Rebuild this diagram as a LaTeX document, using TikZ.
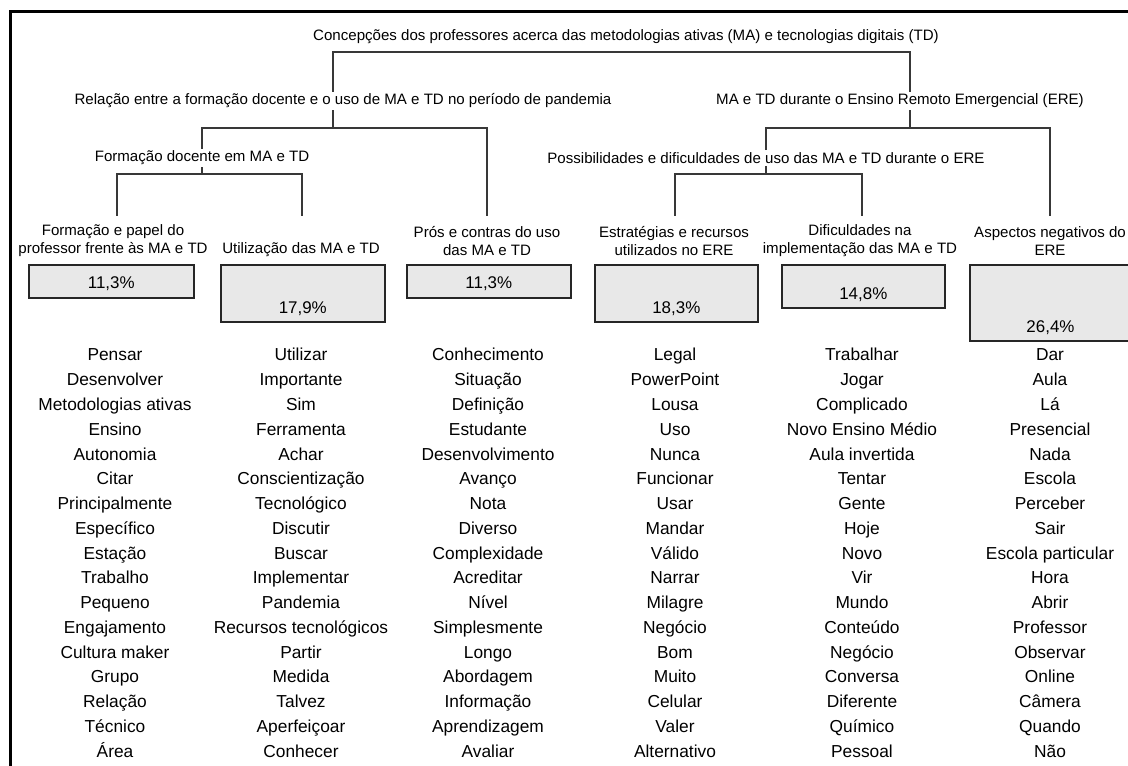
\documentclass[tikz,border=0pt]{standalone}
\usepackage{fontspec}
\setmainfont{Liberation Sans}
\begin{document}
\begin{tikzpicture}[x=0.75pt,y=-0.75pt,
  hdr/.style={font=\fontsize{11.3}{13.5}\selectfont, inner sep=1.5pt, align=center},
  word/.style={font=\fontsize{13}{15}\selectfont, inner sep=0pt, anchor=base},
  conn/.style={draw=black!78, line width=1.1pt},
  pbox/.style={draw=black!85, line width=1.2pt, fill=black!9, inner sep=0pt, anchor=north west},
  pct/.style={font=\fontsize{12.7}{15}\selectfont, inner sep=0pt, anchor=base}]
\useasboundingbox (0,0) rectangle (1128,766);
\begin{scope}
  \clip (0,0) rectangle (1128,766);
  \draw[line width=1.8pt] (10.5,800) -- (10.5,11.5) -- (1150,11.5);
\end{scope}

% headers
\node[hdr] (T) at (626,37) {Concepções dos professores acerca das metodologias ativas (MA) e tecnologias digitais (TD)};
\node[hdr] (rel) at (343,101) {Relação entre a formação docente e o uso de MA e TD no período de pandemia};
\node[hdr] (ere) at (900,101) {MA e TD durante o Ensino Remoto Emergencial (ERE)};
\node[hdr] (fd) at (202,158) {Formação docente em MA e TD};
\node[hdr] (po) at (766,158) {Possibilidades e dificuldades de uso das MA e TD durante o ERE};

\node[hdr] (fp) at (113,241) {Formação e papel do\\professor frente às MA e TD};
\node[hdr] (ut) at (301,250) {Utilização das MA e TD};
\node[hdr] (pc) at (487,241) {Prós e contras do uso\\das MA e TD};
\node[hdr] (es) at (674,241) {Estratégias e recursos\\utilizados no ERE};
\node[hdr] (di) at (860,241) {Dificuldades na\\implementação das MA e TD};
\node[hdr] (as) at (1050,241) {Aspectos negativos do\\ERE};

% connectors
\coordinate (j1) at (333,52);
\coordinate (j2) at (910,52);
\draw[conn] (j1 |- rel.north) -- (j1) -- (j2) -- (j2 |- ere.north);

\coordinate (k0) at (333,128);
\coordinate (k1) at (202,128);
\coordinate (k2) at (487,128);
\coordinate (d3) at (487,216);
\draw[conn] (j1 |- rel.south) -- (k0);
\draw[conn] (k1 |- fd.north) -- (k1) -- (k2) -- (d3);

\coordinate (m1) at (117,174);
\coordinate (m2) at (302,174);
\coordinate (d1) at (117,216);
\coordinate (d2) at (302,216);
\draw[conn] (k1 |- fd.south) -- (k1 |- m1);
\draw[conn] (d1) -- (m1) -- (m2) -- (d2);

\coordinate (n0) at (910,128);
\coordinate (n1) at (766,128);
\coordinate (n2) at (1050,128);
\coordinate (d6) at (1050,216);
\draw[conn] (j2 |- ere.south) -- (n0);
\draw[conn] (n1 |- po.north) -- (n1) -- (n2) -- (d6);

\coordinate (q1) at (675,174);
\coordinate (q2) at (862,174);
\coordinate (d4) at (675,216);
\coordinate (d5) at (862,216);
\draw[conn] (n1 |- po.south) -- (n1 |- q1);
\draw[conn] (d4) -- (q1) -- (q2) -- (d5);

% percentage boxes
\node[pbox, minimum width=123.75pt, minimum height=24.75pt] (b1) at (28,264) {};
\node[pbox, minimum width=123pt, minimum height=42.75pt] (b2) at (220,264) {};
\node[pbox, minimum width=123pt, minimum height=24.75pt] (b3) at (406,264) {};
\node[pbox, minimum width=122.25pt, minimum height=42.75pt] (b4) at (594,264) {};
\node[pbox, minimum width=122.25pt, minimum height=32.25pt] (b5) at (781,264) {};
\node[pbox, minimum width=121pt, minimum height=57pt] (b6) at (969,264) {};
\node[pct] (p1) at ([yshift=7.5pt]b1.south) {11,3\%};
\node[pct] (p2) at ([yshift=7pt]b2.south) {17,9\%};
\node[pct] (p3) at ([yshift=7.5pt]b3.south) {11,3\%};
\node[pct] (p4) at ([yshift=7pt]b4.south) {18,3\%};
\node[pct] (p5) at ([yshift=7pt]b5.south) {14,8\%};
\node[pct] (p6) at ([yshift=6.5pt]b6.south) {26,4\%};

% word columns
\foreach \w [count=\i] in {Pensar, Desenvolver, Metodologias ativas, Ensino, Autonomia, Citar, Principalmente, Específico, Estação, Trabalho, Pequeno, Engajamento, Cultura maker, Grupo, Relação, Técnico, Área}
  \node[word] (wa\i) at (115,{361+(\i-1)*24.75}) {\w};
\foreach \w [count=\i] in {Utilizar, Importante, Sim, Ferramenta, Achar, Conscientização, Tecnológico, Discutir, Buscar, Implementar, Pandemia, Recursos tecnológicos, Partir, Medida, Talvez, Aperfeiçoar, Conhecer}
  \node[word] (wb\i) at (301,{361+(\i-1)*24.75}) {\w};
\foreach \w [count=\i] in {Conhecimento, Situação, Definição, Estudante, Desenvolvimento, Avanço, Nota, Diverso, Complexidade, Acreditar, Nível, Simplesmente, Longo, Abordagem, Informação, Aprendizagem, Avaliar}
  \node[word] (wc\i) at (488,{361+(\i-1)*24.75}) {\w};
\foreach \w [count=\i] in {Legal, PowerPoint, Lousa, Uso, Nunca, Funcionar, Usar, Mandar, Válido, Narrar, Milagre, Negócio, Bom, Muito, Celular, Valer, Alternativo}
  \node[word] (wd\i) at (675,{361+(\i-1)*24.75}) {\w};
\foreach \w [count=\i] in {Trabalhar, Jogar, Complicado, Novo Ensino Médio, Aula invertida, Tentar, Gente, Hoje, Novo, Vir, Mundo, Conteúdo, Negócio, Conversa, Diferente, Químico, Pessoal}
  \node[word] (we\i) at (862,{361+(\i-1)*24.75}) {\w};
\foreach \w [count=\i] in {Dar, Aula, Lá, Presencial, Nada, Escola, Perceber, Sair, Escola particular, Hora, Abrir, Professor, Observar, Online, Câmera, Quando, Não}
  \node[word] (wf\i) at (1050,{361+(\i-1)*24.75}) {\w};
\end{tikzpicture}
\end{document}
